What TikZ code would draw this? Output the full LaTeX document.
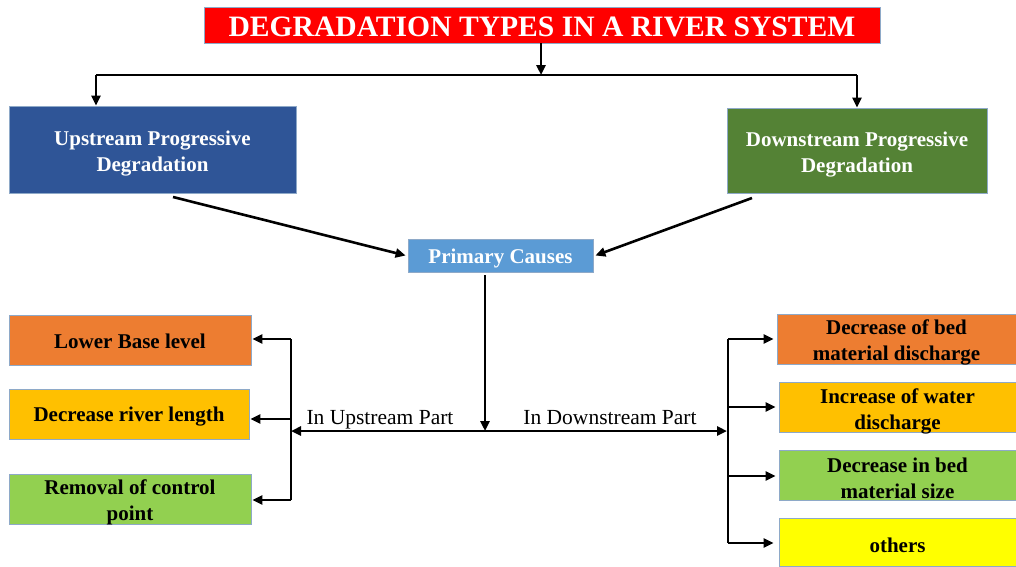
\documentclass[tikz,border=0pt]{standalone}
\usepackage{fontspec}
\setmainfont{Liberation Serif}
\usetikzlibrary{arrows.meta,calc}
\definecolor{cred}{HTML}{FF0000}
\definecolor{cblue}{HTML}{2F5597}
\definecolor{cgreen}{HTML}{548235}
\definecolor{clblue}{HTML}{5B9BD5}
\definecolor{corange}{HTML}{ED7D31}
\definecolor{cgold}{HTML}{FFC000}
\definecolor{clime}{HTML}{92D050}
\definecolor{cyellow}{HTML}{FFFF00}
\definecolor{cborder}{HTML}{8EA9C8}
\tikzset{
  box/.style={draw=cborder, line width=0.8pt, inner sep=0pt},
  txt/.style={align=center, inner sep=0pt, font=\bfseries\fontsize{21}{26}\selectfont},
  wtxt/.style={txt, text=white},
  arr/.style={line width=2.6pt, -{Triangle[length=10pt,width=9pt]}},
  ln/.style={line width=2.6pt},
  lbl/.style={font=\fontsize{21.5}{26}\selectfont, inner sep=0pt, anchor=base},
}
\begin{document}
\begin{tikzpicture}[x=1pt,y=-1pt]
\useasboundingbox (0,0) rectangle (1016,566);
% title and main boxes
\node[box, fill=cred, minimum width=676pt, minimum height=36pt,
  label={[wtxt, font=\bfseries\fontsize{29.6}{30}\selectfont, yshift=-1.5pt]center:DEGRADATION TYPES IN A RIVER SYSTEM}] (title) at (542,25) {};
\node[box, fill=cblue, minimum width=287pt, minimum height=87pt,
  label={[wtxt, yshift=-4pt]center:Upstream Progressive\\Degradation}] (up) at (152.5,149.5) {};
\node[box, fill=cgreen, minimum width=260pt, minimum height=85pt,
  label={[wtxt, yshift=-4pt]center:Downstream Progressive\\Degradation}] (down) at (857,150.5) {};
\node[box, fill=clblue, minimum width=185pt, minimum height=33pt,
  label={[wtxt, yshift=-3pt]center:Primary Causes}] (pc) at (500.5,255.5) {};
% left boxes
\node[box, fill=corange, minimum width=242pt, minimum height=50pt,
  label={[txt, yshift=-1.5pt]center:Lower Base level}] (lb) at (130,340) {};
\node[box, fill=cgold, minimum width=240pt, minimum height=50pt,
  label={[txt, yshift=-3pt]center:Decrease river length}] (drl) at (129,414) {};
\node[box, fill=clime, minimum width=242pt, minimum height=50pt,
  label={[txt, yshift=-3pt]center:Removal of control\\point}] (rcp) at (130,499) {};
% right boxes
\node[box, fill=corange, minimum width=239pt, minimum height=50pt,
  label={[txt, yshift=-3pt]center:Decrease of bed\\material discharge}] (dbd) at (896.5,339) {};
\node[box, fill=cgold, minimum width=237pt, minimum height=50pt,
  label={[txt, yshift=-4pt]center:Increase of water\\discharge}] (iwd) at (897.5,407) {};
\node[box, fill=clime, minimum width=237pt, minimum height=50pt,
  label={[txt, yshift=-3pt]center:Decrease in bed\\material size}] (dbs) at (897.5,475) {};
\node[box, fill=cyellow, minimum width=237pt, minimum height=48pt,
  label={[txt, yshift=-3pt]center:others}] (oth) at (897.5,542) {};
% top connectors
\coordinate (tj) at (541,75);
\coordinate (tl) at (96,75);
\coordinate (tr) at (857,75);
\draw[arr] (title.south -| tj) -- (tj);
\draw[ln] (tl) -- (tr);
\draw[arr] (tl) -- (tl |- up.north);
\draw[arr] (tr) -- (tr |- down.north);
% into primary causes
\coordinate (ua) at (173,197);
\coordinate (da) at (752,198);
\draw[arr] (ua) -- ([xshift=-2pt]pc.west);
\draw[arr] (da) -- ([xshift=2pt]pc.east);
% from primary causes
\coordinate (pcs) at (485,275);
\coordinate (mj) at (485,431);
\coordinate (lbus) at (291,431);
\coordinate (rbus) at (727,431);
\draw[arr] (pcs) -- (mj);
\draw[arr] (mj) -- (lbus);
\draw[arr] (mj) -- (rbus);
\node[lbl] (ulab) at (380,424) {In Upstream Part};
\node[lbl] (dlab) at (610,424) {In Downstream Part};
% left bus
\coordinate (lt) at (291,339);
\coordinate (lm) at (291,419);
\coordinate (lbt) at (291,500);
\draw[ln] (lt) -- (lbt);
\draw[arr] (lt) -- ([xshift=1pt]lb.east |- lt);
\draw[arr] (lm) -- ([xshift=1pt]drl.east |- lm);
\draw[arr] (lbt) -- ([xshift=1pt]rcp.east |- lbt);
% right bus
\coordinate (rt) at (728,339);
\coordinate (r2) at (728,407);
\coordinate (r3) at (728,476);
\coordinate (rb) at (728,543);
\draw[ln] (rt) -- (rb);
\draw[arr] (rt) -- ([xshift=-3pt]dbd.west |- rt);
\draw[arr] (r2) -- ([xshift=-3pt]iwd.west |- r2);
\draw[arr] (r3) -- ([xshift=-3pt]dbs.west |- r3);
\draw[arr] (rb) -- ([xshift=-5pt]oth.west |- rb);
\end{tikzpicture}
\end{document}
